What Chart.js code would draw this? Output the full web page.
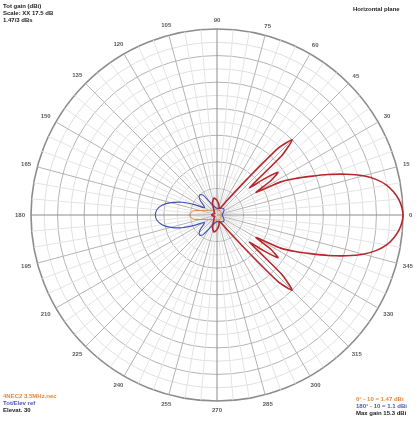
<!DOCTYPE html>
<html>
<head>
<meta charset="utf-8">
<script src="https://cdn.jsdelivr.net/npm/chart.js@4.4.1/dist/chart.umd.min.js"></script>
<style>
  body { margin: 0; background: #fff; font-family: "Liberation Sans", Arial, sans-serif; }
  #wrap { position: relative; width: 417px; height: 423px; overflow: hidden; }
  .note { position: absolute; font-size: 6px; line-height: 7px; white-space: nowrap; font-weight: bold; color: #222; }
</style>
</head>
<body>
<div id="wrap">
  <canvas id="polar"></canvas>
  <div class="note" style="left:3px;top:3px;">Tot gain (dBi)<br>Scale: XX 17.5 dB<br>1.47/3 dBs</div>
  <div class="note" style="left:353px;top:6px;">Horizontal plane</div>
  <div class="note" style="left:3px;top:393px;"><span style="color:#e8863a">4NEC2 3.5MHz.nec</span><br><span style="color:#4a58b8">Tot/Elev ref</span><br>Elevat. 30</div>
  <div class="note" style="left:356px;top:396px;"><span style="color:#e8863a">0° - 10 = 1.47 dBi</span><br><span style="color:#4a58b8">180° - 10 = 1.1 dBi</span><br>Max gain 15.3 dBi</div>
</div>
<script>
// angles in degrees, counter-clockwise from the right; gain on the plot's ring scale (0..70 = outer ring)
const tickAngles = [0, 15, 30, 45, 60, 75, 90, 105, 120, 135, 150, 165, 180, 195, 210, 225, 240, 255, 270, 285, 300, 315, 330, 345];

const redAngles = [0, 2.5, 5, 7.5, 10, 12.5, 15, 17.5, 20, 22.5, 25, 27.5, 30, 32.5, 35, 37.5, 40, 42.5, 45, 47.5, 50, 55, 60, 70, 80, 90, 100, 110, 120, 135, 150, 165, 180,
  195, 210, 225, 240, 250, 260, 270, 280, 290, 300, 305, 310, 312.5, 315, 317.5, 320, 322.5, 325, 327.5, 330, 332.5, 335, 337.5, 340, 342.5, 345, 347.5, 350, 352.5, 355, 357.5];
const redGain = [70, 69.6, 68.6, 67, 64.8, 61.5, 57, 51, 44.5, 38, 32.5, 27, 17, 24, 28, 22, 16, 33, 40, 34, 18, 7, 4, 2.5, 4, 5.5, 6.5, 5, 2.5, 1.5, 1, 1.5, 2,
  1.5, 1, 1.5, 2.5, 5, 6.5, 5.5, 4, 2.5, 4, 7, 18, 34, 40, 33, 16, 22, 28, 24, 17, 27, 32.5, 38, 44.5, 51, 57, 61.5, 64.8, 67, 68.6, 69.6];

const blueAngles = [0, 30, 45, 60, 90, 110, 120, 125, 130, 135, 140, 145, 150, 155, 160, 165, 170, 175, 180, 185, 190, 195, 200, 205, 210, 215, 220, 225, 230, 235, 240, 250, 270, 300, 315, 330];
const blueGain = [2, 3, 3.5, 3, 2.5, 3.5, 6, 9, 10, 9.5, 8, 6, 5.5, 9, 14, 18, 21, 22.7, 23.2, 22.7, 21, 18, 14, 9, 5.5, 6, 8, 9.5, 10, 9, 6, 3.5, 2.5, 3, 3.5, 3];

const orangeAngles = [0, 45, 90, 135, 160, 170, 180, 190, 200, 225, 270, 315];
const orangeGain = [1.5, 2, 2, 2.5, 5, 9, 10.5, 9, 5, 2.5, 2, 2];

// one category every 2.5 degrees, ordered clockwise starting at 0 on the right
const STEP = 2.5;
const labelAngles = [];
for (let i = 0; i < 360 / STEP; i++) labelAngles.push((360 - i * STEP) % 360);
const indexOf = (a) => Math.round(((360 - a) % 360) / STEP) % labelAngles.length;

function toSeries(angles, gains) {
  const out = new Array(labelAngles.length).fill(null);
  angles.forEach((a, k) => { out[indexOf(a)] = gains[k]; });
  return out;
}

const angleLabels = {
  id: 'angleLabels',
  afterDraw(chart) {
    const r = chart.scales.r;
    const ctx = chart.ctx;
    ctx.save();
    ctx.font = 'bold 6px "Liberation Sans", Arial, sans-serif';
    ctx.fillStyle = '#5a5a5a';
    ctx.textAlign = 'center';
    ctx.textBaseline = 'middle';
    tickAngles.forEach((a) => {
      const text = String(a);
      const w = ctx.measureText(text).width;
      const rad = a * Math.PI / 180;
      const dist = r.drawingArea + 6 + Math.abs(Math.cos(rad)) * w / 2 + Math.abs(Math.sin(rad)) * 3;
      const p = r.getPointPosition(indexOf(a), dist);
      ctx.fillText(text, p.x, p.y);
    });
    ctx.restore();
  }
};

new Chart(document.getElementById('polar'), {
  type: 'radar',
  data: {
    labels: labelAngles,
    datasets: [{
      data: toSeries(redAngles, redGain),
      borderColor: '#b8262c',
      borderWidth: 1.6
    }, {
      data: toSeries(blueAngles, blueGain),
      borderColor: '#3f4fb5',
      borderWidth: 1.1
    }, {
      data: toSeries(orangeAngles, orangeGain),
      borderColor: '#e8863a',
      borderWidth: 1
    }]
  },
  options: {
    responsive: true,
    maintainAspectRatio: false,
    animation: false,
    layout: { padding: { left: 31, right: 14, top: 29, bottom: 22 } },
    elements: {
      point: { radius: 0 },
      line: { fill: false, tension: 0.2 }
    },
    datasets: { radar: { spanGaps: true } },
    plugins: { legend: { display: false }, tooltip: { enabled: false } },
    scales: {
      r: {
        startAngle: 90,
        min: 0,
        max: 70,
        ticks: { display: false, stepSize: 5 },
        pointLabels: { display: false },
        grid: {
          circular: true,
          color: (c) => c.tick.value === 70 ? '#8c8c8c' : (c.tick.value % 10 === 0 ? '#b4b4b4' : '#e0e0e0'),
          lineWidth: (c) => c.tick.value === 70 ? 1.6 : 1
        },
        angleLines: {
          color: (c) => c.index % 36 === 0 ? '#8c8c8c' : (c.index % 6 === 0 ? '#b4b4b4' : (c.index % 2 === 0 ? '#e4e4e4' : 'rgba(0,0,0,0)')),
          lineWidth: 1
        }
      }
    }
  },
  plugins: [angleLabels]
});
</script>
</body>
</html>
